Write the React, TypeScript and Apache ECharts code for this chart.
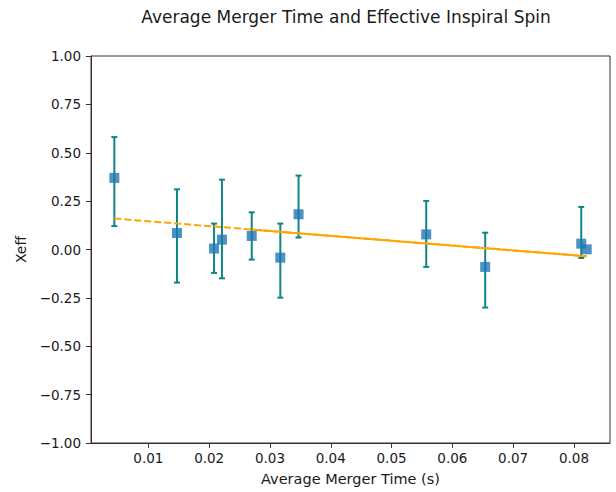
import React, { useEffect, useRef } from "react";
import * as echarts from "echarts";

const mergerTimes = [0.0044, 0.0147, 0.0208, 0.0221, 0.0270, 0.0317, 0.0347, 0.0557, 0.0654, 0.0812, 0.0821];
const xeff = [0.370, 0.085, 0.005, 0.051, 0.070, -0.042, 0.182, 0.078, -0.090, 0.030, 0.001];
const errLow = [0.121, -0.171, -0.121, -0.149, -0.052, -0.249, 0.062, -0.090, -0.300, -0.044, 0.001];
const errHigh = [0.581, 0.311, 0.134, 0.361, 0.192, 0.134, 0.382, 0.251, 0.087, 0.220, 0.001];

const trendDashedX = [0.0044, 0.0821];
const trendDashedY = [0.160, -0.035];
const trendSolidX = [0.0270, 0.0821];
const trendSolidY = [0.103, -0.035];

const xTicks = [0.01, 0.02, 0.03, 0.04, 0.05, 0.06, 0.07, 0.08];

const FONT = "DejaVu Sans";

export default function App() {
  const ref = useRef<HTMLDivElement>(null);
  useEffect(() => {
    if (!ref.current) return;
    const chart = echarts.init(ref.current, undefined, { renderer: "svg" });
    const errData = mergerTimes.map((x, i) => [x, errLow[i], errHigh[i]]);
    const option: any = {
      animation: false,
      backgroundColor: "#ffffff",
      title: {
        text: "Average Merger Time and Effective Inspiral Spin",
        left: 341,
        textAlign: "center",
        top: 3,
        textStyle: { fontFamily: FONT, fontSize: 17, fontWeight: "normal", color: "#1a1a1a" },
      },
      grid: {
        left: 91,
        right: 6,
        top: 56,
        bottom: 49,
        show: true,
        borderColor: "#333",
        borderWidth: 1,
        backgroundColor: "transparent",
      },
      xAxis: {
        type: "value",
        min: 0.00056,
        max: 0.08593,
        name: "Average Merger Time (s)",
        nameLocation: "middle",
        nameGap: 28,
        nameTextStyle: { fontFamily: FONT, fontSize: 14.5, color: "#1a1a1a" },
        splitLine: { show: false },
        axisLine: { show: true, onZero: false, lineStyle: { color: "#333", width: 1 } },
        axisTick: { show: true, inside: false, length: 5, customValues: xTicks, lineStyle: { color: "#333" } },
        axisLabel: {
          customValues: xTicks,
          fontFamily: FONT,
          fontSize: 13.5,
          color: "#1a1a1a",
          margin: 8,
          formatter: (v: number) => v.toFixed(2),
        },
      },
      yAxis: {
        type: "value",
        min: -1,
        max: 1,
        interval: 0.25,
        name: "Xeff",
        nameLocation: "middle",
        nameGap: 63,
        nameTextStyle: { fontFamily: FONT, fontSize: 14, color: "#1a1a1a" },
        splitLine: { show: false },
        axisLine: { show: true, lineStyle: { color: "#333", width: 1 } },
        axisTick: { show: true, inside: false, length: 5, lineStyle: { color: "#333" } },
        axisLabel: {
          fontFamily: FONT,
          fontSize: 13.5,
          color: "#1a1a1a",
          margin: 10,
          formatter: (v: number) => {
            const s = Math.abs(v).toFixed(2);
            return v < 0 ? "\u2212" + s : s;
          },
        },
      },
      series: [
        {
          type: "custom",
          z: 1,
          data: errData,
          encode: { x: 0, y: [1, 2] },
          renderItem: (params: any, api: any) => {
            const x = api.value(0);
            const lo = api.coord([x, api.value(1)]);
            const hi = api.coord([x, api.value(2)]);
            if (Math.abs(lo[1] - hi[1]) < 1) return { type: "group", children: [] };
            const style = { stroke: "#0f8585", lineWidth: 2 };
            const cap = 3;
            return {
              type: "group",
              children: [
                { type: "line", shape: { x1: lo[0], y1: lo[1], x2: hi[0], y2: hi[1] }, style },
                { type: "line", shape: { x1: lo[0] - cap, y1: lo[1], x2: lo[0] + cap, y2: lo[1] }, style },
                { type: "line", shape: { x1: hi[0] - cap, y1: hi[1], x2: hi[0] + cap, y2: hi[1] }, style },
              ],
            };
          },
        },
        {
          type: "line",
          z: 2,
          data: trendDashedX.map((x, i) => [x, trendDashedY[i]]),
          showSymbol: false,
          symbol: "none",
          lineStyle: { color: "#FFA500", width: 2, type: [7, 3] },
        },
        {
          type: "line",
          z: 2,
          data: trendSolidX.map((x, i) => [x, trendSolidY[i]]),
          showSymbol: false,
          symbol: "none",
          lineStyle: { color: "#FFA500", width: 2, type: "solid" },
        },
        {
          type: "scatter",
          z: 3,
          symbol: "rect",
          symbolSize: 10,
          data: mergerTimes.map((x, i) => [x, xeff[i]]),
          itemStyle: { color: "#1f77b4" },
        },
      ],
    };
    chart.setOption(option);
    return () => chart.dispose();
  }, []);
  return <div ref={ref} style={{ position: "absolute", left: 0, top: 0, width: 616, height: 492 }} />;
}
